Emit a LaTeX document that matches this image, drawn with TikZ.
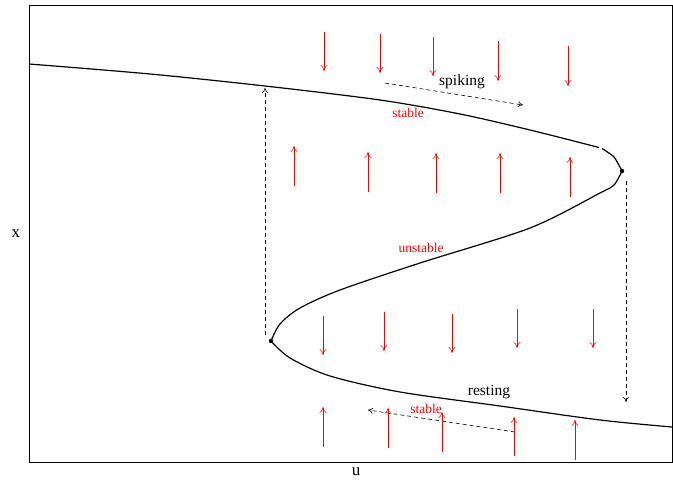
\documentclass[tikz,border=0pt]{standalone}
\usepackage{fontspec}
\setmainfont{Liberation Serif}
\usetikzlibrary{arrows.meta}
\begin{document}
\begin{tikzpicture}[x=1pt,y=-1pt,
  curve/.style={line width=1.2pt,black},
  jump/.style={dashed,dash pattern=on 4pt off 3pt,line width=0.6pt,-{To[length=5pt,width=6pt]}},
  flow/.style={red,line width=0.6pt,-{To[length=6pt,width=7pt]}},
  redlab/.style={red,font=\fontsize{13.5}{13.5}\selectfont},
  blacklab/.style={black,font=\fontsize{15.5}{15.5}\selectfont},
  dot/.style={circle,fill=black,inner sep=0pt,minimum size=4.5pt}]
\useasboundingbox (0,0) rectangle (673,481);
\draw[line width=0.7pt] (29,5) rectangle (672.5,462);
% fold points
\node[dot] (fr) at (622,171) {};
\node[dot] (fl) at (271,341) {};
% S-curve
\draw[curve] plot[smooth,tension=0.5] coordinates {(29,64) (150,74) (265,86) (380,100) (460,114) (530,130) (599,147.5)};
\draw[curve] plot[smooth,tension=0.4] coordinates {(602,148.5) (614,157) (622,171)};
\draw[curve] plot[smooth,tension=0.5] coordinates {(622,171) (614,185) (600,193) (530,228) (420,263) (340,290) (300,308) (280,324) (271,341)};
\draw[curve] plot[smooth,tension=0.5] coordinates {(271,341) (290,358) (330,376) (400,392) (500,406) (600,420) (672,427)};
% jump arrows
\coordinate (jl0) at (265,335); \coordinate (jl1) at (265,88);
\coordinate (jr0) at (626,181); \coordinate (jr1) at (626,402);
\coordinate (sp0) at (385,83); \coordinate (sp1) at (523,105);
\coordinate (rs0) at (515,432); \coordinate (rs1) at (368,410);
\draw[jump] (jl0) -- (jl1);
\draw[jump] (jr0) -- (jr1);
\draw[jump] (sp0) -- (sp1);
\draw[jump] (rs0) -- (rs1);
% red flow arrows: top row (down)
\foreach \i/\x/\a/\b in {1/324/32/71,2/380/34/73,3/433/37/76,4/498/41/81,5/568/46/86}{
  \coordinate (ta\i) at (\x,\a); \coordinate (tb\i) at (\x,\b);
  \draw[flow] (ta\i) -- (tb\i);}
% second row (up)
\foreach \i/\x/\a/\b in {1/294/186/146,2/368/192/152,3/436/193/153,4/500/193/153,5/570/197/157}{
  \coordinate (ua\i) at (\x,\a); \coordinate (ub\i) at (\x,\b);
  \draw[flow] (ua\i) -- (ub\i);}
% third row (down)
\foreach \i/\x/\a/\b in {1/323/316/355,2/384/312/351,3/452/314/353,4/517/309/348,5/593/309/348}{
  \coordinate (da\i) at (\x,\a); \coordinate (db\i) at (\x,\b);
  \draw[flow] (da\i) -- (db\i);}
% bottom row (up)
\foreach \i/\x/\a/\b in {1/323/447/407,2/388/448/408,3/442/452/412,4/514/456/417,5/575/460/420}{
  \coordinate (ba\i) at (\x,\a); \coordinate (bb\i) at (\x,\b);
  \draw[flow] (ba\i) -- (bb\i);}
% labels
\node[blacklab] (lsp) at (462,82) {spiking};
\node[redlab] (lst1) at (408,113) {stable};
\node[redlab] (lun) at (421,248) {unstable};
\node[blacklab] (lre) at (489,392) {resting};
\node[redlab] (lst2) at (426,409) {stable};
\node[font=\fontsize{17}{17}\selectfont] (lx) at (16,234) {x};
\node[font=\fontsize{17}{17}\selectfont] (lu) at (356,472) {u};
\end{tikzpicture}
\end{document}
